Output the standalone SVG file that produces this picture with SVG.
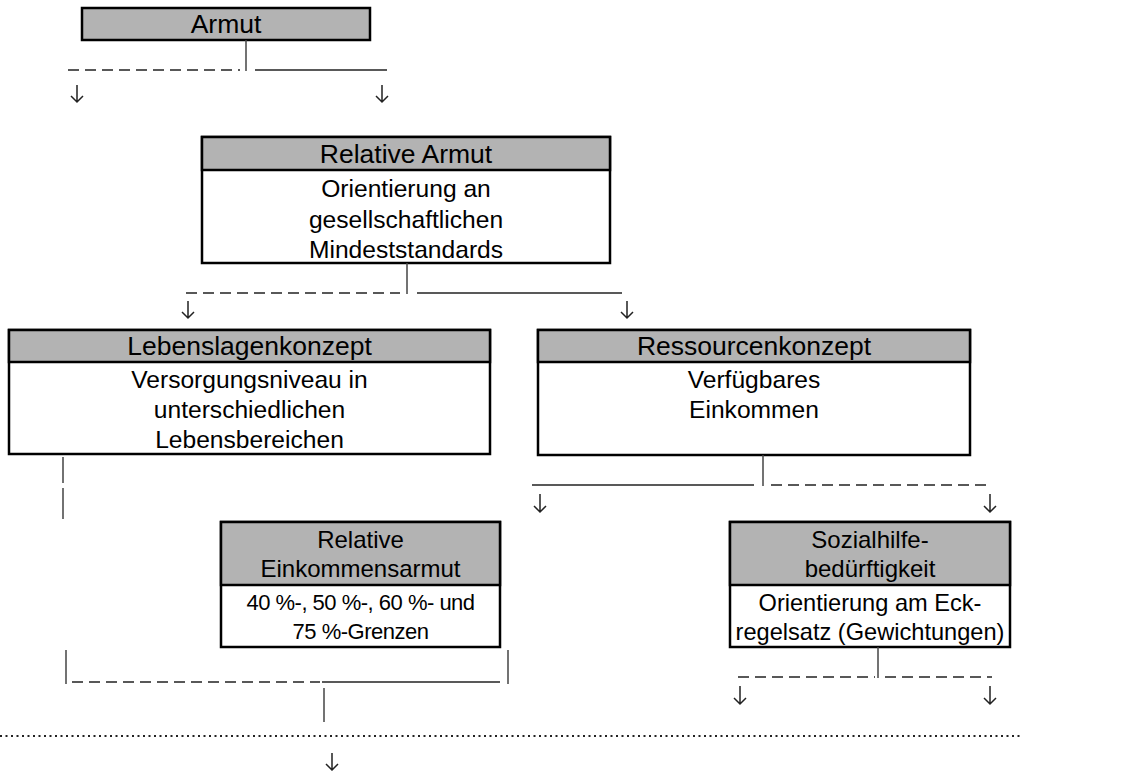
<svg xmlns="http://www.w3.org/2000/svg" width="1145" height="771" viewBox="0 0 1145 771">
<defs>
<style>
.box{fill:#fff;stroke:#000;stroke-width:2.5}
.hdr{fill:#b3b3b3;stroke:#000;stroke-width:2.5}
.t{font-family:"Liberation Sans",Arial,sans-serif;font-size:24px;fill:#000;text-anchor:middle}
.h1{font-size:26.5px}
.b1{font-size:24.6px}
.b2{font-size:22px;letter-spacing:-0.5px}
.b3{font-size:23.6px}
.v{stroke:#444;stroke-width:1.5;fill:none}
.s{stroke:#222;stroke-width:1.4;fill:none}
.d{stroke:#222;stroke-width:1.4;fill:none;stroke-dasharray:11 6}
.dot{stroke:#222;stroke-width:2;fill:none;stroke-dasharray:2 3.5}
.ar{stroke:#222;stroke-width:1.5;fill:none}
</style>
</defs>
<g id="n-armut">
<rect class="hdr" x="82" y="8" width="288" height="32"/>
<text class="t h1" x="226" y="33">Armut</text>
</g>
<g id="n-relarmut">
<rect class="box" x="202" y="137" width="408" height="126"/>
<rect class="hdr" x="202" y="137" width="408" height="33"/>
<text class="t h1" x="406" y="162.5">Relative Armut</text>
<text class="t b1" x="406" y="197">Orientierung an</text>
<text class="t b1" x="406" y="227.5">gesellschaftlichen</text>
<text class="t b1" x="406" y="258">Mindeststandards</text>
</g>
<g id="n-lebens">
<rect class="box" x="9" y="330" width="481" height="124"/>
<rect class="hdr" x="9" y="330" width="481" height="32"/>
<text class="t h1" x="249.5" y="355">Lebenslagenkonzept</text>
<text class="t b1" x="249.5" y="388">Versorgungsniveau in</text>
<text class="t b1" x="249.5" y="418">unterschiedlichen</text>
<text class="t b1" x="249.5" y="448">Lebensbereichen</text>
</g>
<g id="n-ress">
<rect class="box" x="538" y="330" width="432" height="125"/>
<rect class="hdr" x="538" y="330" width="432" height="32"/>
<text class="t h1" x="754" y="355">Ressourcenkonzept</text>
<text class="t b1" x="754" y="388">Verfügbares</text>
<text class="t b1" x="754" y="418">Einkommen</text>
</g>
<g id="n-relek">
<rect class="box" x="221" y="522" width="279" height="125"/>
<rect class="hdr" x="221" y="522" width="279" height="63"/>
<text class="t" x="360.5" y="548">Relative</text>
<text class="t" x="360.5" y="577">Einkommensarmut</text>
<text class="t b2" x="360.5" y="610">40 %-, 50 %-, 60 %- und</text>
<text class="t b2" x="360.5" y="639">75 %-Grenzen</text>
</g>
<g id="n-sozial">
<rect class="box" x="730" y="522" width="280" height="125"/>
<rect class="hdr" x="730" y="522" width="280" height="63"/>
<text class="t" x="870" y="548">Sozialhilfe-</text>
<text class="t" x="870" y="577">bedürftigkeit</text>
<text class="t b3" x="870" y="611">Orientierung am Eck-</text>
<text class="t b3" x="870" y="640">regelsatz (Gewichtungen)</text>
</g>
<g id="connectors">
<path class="v" d="M246 40V71"/>
<path class="d" d="M68 70H240"/>
<path class="s" d="M255 70H387"/>
<path class="ar" d="M77 85V102M71 96L77 102L83 96"/>
<path class="ar" d="M382 85V102M376 96L382 102L388 96"/>
<path class="v" d="M407 263V294"/>
<path class="d" d="M186 293H400"/>
<path class="s" d="M417 293H622"/>
<path class="ar" d="M188 301V318M182 312L188 318L194 312"/>
<path class="ar" d="M627 301V318M621 312L627 318L633 312"/>
<path class="v" d="M63 457V483M63 488V519"/>
<path class="v" d="M763 455V486"/>
<path class="s" d="M532 485H754"/>
<path class="d" d="M771 485H990"/>
<path class="ar" d="M540 494V512M534 506L540 512L546 506"/>
<path class="ar" d="M990 494V512M984 506L990 512L996 506"/>
<path class="v" d="M66 650V684"/>
<path class="v" d="M508 650V684"/>
<path class="d" d="M72 682H320"/>
<path class="s" d="M322 682H500"/>
<path class="v" d="M324 688V722"/>
<path class="v" d="M878 647V678"/>
<path class="d" d="M738 677H875"/>
<path class="d" d="M885 677H992"/>
<path class="ar" d="M740 686V704M734 698L740 704L746 698"/>
<path class="ar" d="M990 686V704M984 698L990 704L996 698"/>
<path class="dot" d="M0 736H1022"/>
<path class="ar" d="M332 753V770M326 764L332 770L338 764"/>
</g>
</svg>
